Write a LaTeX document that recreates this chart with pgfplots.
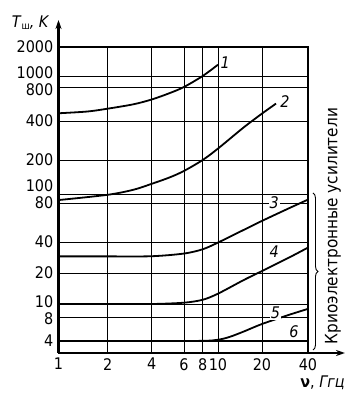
\documentclass[border=0pt]{standalone}
\usepackage{fontspec}
\setmainfont{DejaVu Sans Condensed}
\usepackage{pgfplots}
\pgfplotsset{compat=1.18}
\usetikzlibrary{arrows.meta,decorations.pathreplacing}
\newcommand{\bigf}{\fontsize{16}{18}\selectfont}
% hand-drawn logarithmic scales: piecewise log-linear between the printed grid lines
\pgfmathdeclarefunction{ymap}{1}{%
  \begingroup
  \pgfmathparse{log10(#1)}\let\L\pgfmathresult
  \pgfmathparse{12+79.73*(\L-0.60206)
    +54.37*max(\L-0.90309,0)
    -31.1*max(\L-1,0)
    +26.6*max(\L-1.60206,0)
    -36.7*max(\L-1.90309,0)
    +20.0*max(\L-2,0)
    +16.7*max(\L-2.30103,0)
    -16.7*max(\L-2.60206,0)
    +0.6*max(\L-2.90309,0)
    -17.2*max(\L-3,0)}%
  \pgfmathsmuggle\pgfmathresult
  \endgroup}
\pgfmathdeclarefunction{xmap}{1}{%
  \begingroup
  \pgfmathparse{log10(#1)}\let\L\pgfmathresult
  \pgfmathparse{163.4*\L
    -17.2*max(\L-0.30103,0)
    +37.2*max(\L-0.60206,0)
    -33.7*max(\L-0.77815,0)
    +8.2*max(\L-0.90309,0)
    -11.7*max(\L-1,0)
    +6.6*max(\L-1.30103,0)}%
  \pgfmathsmuggle\pgfmathresult
  \endgroup}
\tikzset{curve/.style={black, line width=1.8pt, smooth, mark=none}}
\begin{document}
\begin{tikzpicture}
\useasboundingbox (-58.5pt,-47pt) rectangle (302.5pt,353pt);
\begin{axis}[
  at={(0,0)}, anchor=south west,
  scale only axis, width=249.5pt, height=306pt,
  x coord trafo/.code={\pgfmathparse{xmap(#1)}},
  y coord trafo/.code={\pgfmathparse{ymap(#1)}},
  xmin=1, xmax=40, ymin=2.83, ymax=2000,
  axis x line=bottom, axis y line=left,
  x axis line style={line width=2.4pt, -{Stealth[length=9pt,width=6pt]}, shorten >=-37pt},
  y axis line style={line width=2.4pt, -{Stealth[length=9pt,width=6pt]}, shorten >=-27pt},
  xtick={1,2,4,6,8,10,20,40},
  xticklabels={1,2,4,6,8,10,20,40},
  ytick={4,8,10,20,40,80,100,200,400,800,1000,2000},
  yticklabels={4,
    \raisebox{-1.5pt}[\height][\depth]{8},
    \raisebox{2.5pt}[\height][\depth]{10},
    20,40,
    80,
    \raisebox{8pt}[\height][\depth]{100},
    200,400,
    \raisebox{-3pt}[\height][\depth]{800},
    \raisebox{3.5pt}[\height][\depth]{1000},
    2000},
  minor tick num=0,
  major tick length=0pt,
  grid=major,
  major grid style={line width=0.8pt, black},
  xticklabel style={font=\bigf, inner sep=0pt, yshift=-5pt, anchor=north},
  yticklabel style={font=\bigf, inner sep=0pt, xshift=-5pt, anchor=east},
  clip=false,
]
% curve 1
\addplot[curve] coordinates {(1,468) (1.5,485) (2,514) (3,562) (4,620) (5,705) (6,800) (8,1000) (10,1310)};
% curve 2
\addplot[curve] coordinates {(1,86) (2,98) (3,109) (4,123) (5,140) (6,160) (8,200) (10,245) (15,357) (20,465) (24.7,570)};
% curve 3
\addplot[curve] coordinates {(1,29) (2,29) (4,29.1) (6,30.9) (8,34) (10,39.5) (15,49.6) (20,58.2) (30,72.8) (40,87)};
% curve 4
\addplot[curve] coordinates {(1,10) (2,10) (4,10) (6,10.3) (8,11) (10,12.6) (15,17.1) (20,20.9) (30,28.2) (40,35.3)};
% curve 5
\addplot[curve] coordinates {(1,4) (4,4) (8,4.02) (10,4.15) (12,4.5) (15,5.26) (20,6.54) (30,8.3) (40,9.2)};
% curve 6
\addplot[curve] coordinates {(1,4) (40,4)};

\draw[line width=2.4pt] (rel axis cs:0,1) -- (rel axis cs:1,1) -- (rel axis cs:1,0);

\node[font=\bigf\itshape] at (axis cs:11.2,1363) {1};
\node[font=\bigf\itshape] at (axis cs:28.3,600) {2};
\node[font=\bigf\itshape, fill=white, inner sep=1pt] at (axis cs:24,81) {3};
\node[font=\bigf\itshape] at (axis cs:24,32) {4};
\node[font=\bigf\itshape, fill=white, inner sep=1pt] at (axis cs:24.5,8.6) {5};
\node[font=\bigf\itshape] at (axis cs:32.4,5.2) {6};

\draw[line width=0.9pt, decorate, decoration={brace, amplitude=5pt}]
  (rel axis cs:1.02,0.523) -- (rel axis cs:1.02,0.01);
\node[rotate=90, font=\fontsize{17}{19}\selectfont] at (rel axis cs:1.10,0.415) {Криоэлектронные усилители};

\node[anchor=base east, font=\bigf, inner sep=0pt] at (rel axis cs:-0.036,1.065)
  {\textit{T}\raisebox{-2pt}{\fontsize{10}{12}\selectfont ш}\textit{, K}};
\node[anchor=base east, font=\bigf, inner sep=0pt] at (rel axis cs:1.148,-0.114)
  {\textbf{ν}, \textit{Ггц}};
\end{axis}
\end{tikzpicture}
\end{document}
